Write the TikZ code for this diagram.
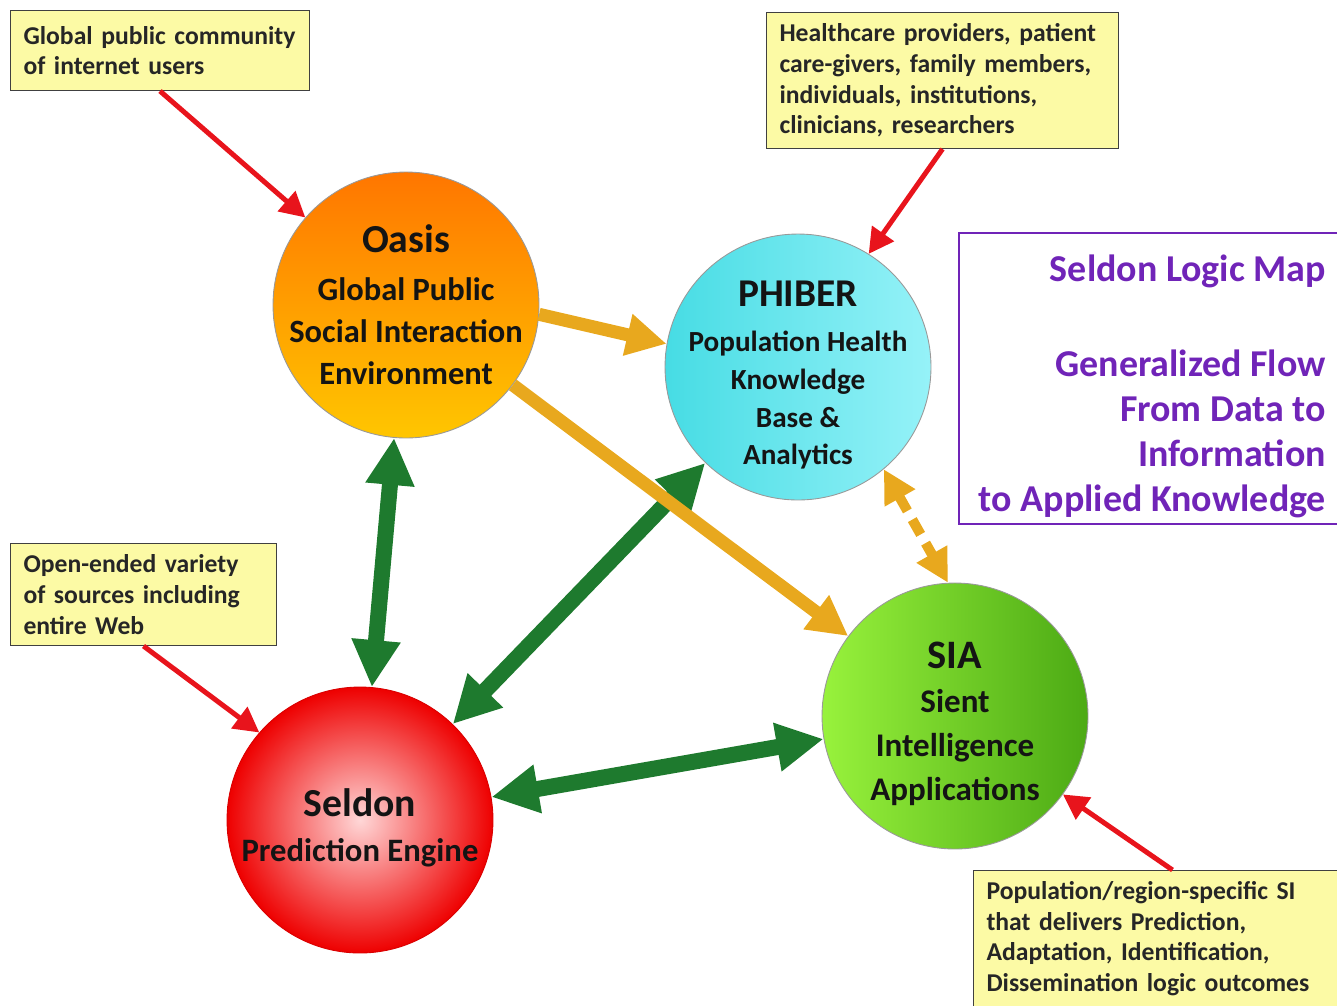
\documentclass[tikz,border=0pt]{standalone}
\usepackage{fontspec}
\setmainfont{Carlito}
\usetikzlibrary{arrows.meta,positioning}

\definecolor{notefill}{RGB}{252,250,165}
\definecolor{feedred}{RGB}{232,20,28}
\definecolor{linkgreen}{RGB}{30,122,46}
\definecolor{flowgold}{RGB}{232,168,30}
\definecolor{mappurple}{RGB}{112,36,184}

\begin{document}
\begin{tikzpicture}[x=0.02cm,y=-0.02cm,
	hub/.style={circle,minimum size=5.32cm,inner sep=-1.2cm,align=center,draw=black!40,line width=0.5pt,text=black!92},
	note/.style={anchor=north west,draw=black!75,line width=0.6pt,fill=notefill,align=left,inner xsep=0.26cm,inner ysep=0pt,text=black!85,font=\fontsize{14.6}{17.5}\selectfont\bfseries},
	feed/.style={draw=feedred,line width=0.1cm,-{Triangle[length=0.5cm,width=0.52cm]}},
	link/.style={draw=linkgreen,line width=0.32cm,{Triangle[length=0.94cm,width=0.92cm]}-{Triangle[length=0.94cm,width=0.92cm]}},
	flow/.style={draw=flowgold,line width=0.26cm,-{Triangle[length=0.8cm,width=0.8cm]}}]
%	\draw [help lines,step=100] (0,0) grid (1337,1005);
	\useasboundingbox (0,0) rectangle (1337,1005);

	% the four hubs
	\node [hub, top color={rgb,255:red,255;green,118;blue,0}, bottom color={rgb,255:red,255;green,198;blue,0},
		font=\fontsize{18.5}{24}\selectfont\bfseries] (oasis) at (406,305)
		{{\fontsize{22.6}{26}\selectfont Oasis}\\[3pt] Global Public\\ Social Interaction\\ Environment};
	\node [hub, left color={rgb,255:red,70;green,220;blue,228}, right color={rgb,255:red,150;green,242;blue,248},
		font=\fontsize{16.6}{21.5}\selectfont\bfseries] (phiber) at (798,367)
		{\rule{0pt}{24pt}{\fontsize{22.4}{26}\selectfont PHIBER}\\[4pt] Population Health\\ Knowledge\\ Base \&\\ Analytics};
	\node [hub, left color={rgb,255:red,152;green,242;blue,60}, right color={rgb,255:red,76;green,170;blue,20},
		font=\fontsize{18.8}{25}\selectfont\bfseries] (sia) at (955,716)
		{\rule{0pt}{24pt}{\fontsize{23}{26}\selectfont SIA}\\ Sient\\ Intelligence\\ Applications};
	\node [hub, draw=red!85!black, inner color={rgb,255:red,255;green,215;blue,215}, outer color={rgb,255:red,238;green,0;blue,0},
		font=\fontsize{18.6}{25.5}\selectfont\bfseries] (seldon) at (360,820)
		{\rule{0pt}{25pt}{\fontsize{22.6}{26}\selectfont Seldon}\\ Prediction Engine};

	% notes
	\node [note, text width=5.46cm, minimum height=1.6cm] (crowd) at (10,10)
		{Global public community\\ of internet users};
	\node [note, text width=6.52cm, minimum height=2.72cm] (carers) at (766,12)
		{Healthcare providers, patient\\ care-givers, family members,\\ individuals, institutions,\\ clinicians, researchers};
	\node [note, text width=4.8cm, minimum height=2.04cm] (sources) at (10,543)
		{Open-ended variety\\ of sources including\\ entire Web};
	\node [note, text width=7.44cm, minimum height=2.72cm] (outcomes) at (973,870)
		{Population/region-specific SI\\ that delivers Prediction,\\ Adaptation, Identification,\\ Dissemination logic outcomes};

	\node [anchor=north west, draw=mappurple, line width=1.1pt, minimum width=7.74cm, minimum height=5.82cm,
		align=right, text=mappurple, font=\fontsize{21.6}{25.5}\selectfont\bfseries] (legend) at (958,232)
		{\rule{0pt}{24pt}Seldon Logic Map\\[29pt] Generalized Flow\\ From Data to\\ Information\\ to Applied Knowledge};

	% inputs
	\draw [feed] (crowd.south) -- (oasis.139);
	\draw [feed] (carers.south) -- (phiber.58);
	\draw [feed] (sources.south) -- (seldon.139);
	\draw [feed] (outcomes.north) -- (sia.-36);

	% exchanges
	\draw [link] (oasis) -- (seldon);
	\draw [link] (phiber) -- (seldon);
	\draw [link] (seldon) -- (sia);

	% flow of knowledge
	\draw [flow] (oasis.-4) -- (phiber.170);
	\draw [flow] (oasis) -- (sia);
	\draw [flow, line width=0.2cm, dash pattern=on 0.34cm off 0.2cm,
		{Triangle[length=0.66cm,width=0.66cm]}-{Triangle[length=0.66cm,width=0.66cm]}] (phiber.-50) -- (sia.93);
\end{tikzpicture}
\end{document}
